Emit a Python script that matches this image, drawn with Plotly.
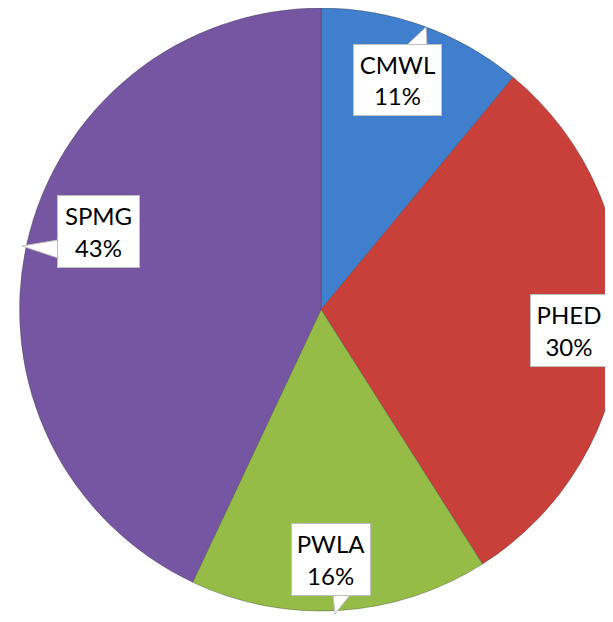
import plotly.graph_objects as go

# the page body adds an 8px margin, so the figure is drawn a bit wider
# than the window and the right edge gets clipped like the original
W, H = 630, 614
OFF = 8

labels = ["CMWL", "PHED", "PWLA", "SPMG"]
shares = [11, 30, 16, 43]
colors = ["#3F7FCD", "#C93F3A", "#95BC47", "#7656A2"]


def px(x):
    # window pixel -> paper x
    return (x - OFF) / W


def py(y):
    # window pixel -> paper y
    return 1 - (y - OFF) / H


fig = go.Figure(go.Pie(
    labels=labels,
    values=shares,
    sort=False,
    direction="clockwise",
    rotation=0,
    textinfo="none",
    hoverinfo="label+percent",
    marker=dict(colors=colors, line=dict(color="rgba(60,60,60,0.35)", width=1)),
    domain=dict(x=[px(19), px(623)], y=[py(611), py(8)]),
    showlegend=False,
))

# label boxes: centre x, centre y, width, height (window pixels)
boxes = {
    "CMWL": (397, 80, 89, 72),
    "PHED": (569, 330, 78, 73),
    "PWLA": (331, 559, 80, 73),
    "SPMG": (98, 232, 83, 73),
}
# callout pointers (window pixel triangles)
pointers = [
    [(407, 45), (427, 45), (426, 27)],
    [(607, 340), (607, 358), (622, 336)],
    [(333, 595), (350, 595), (335, 614)],
    [(58, 240), (58, 258), (22, 246)],
]

shapes = []
for tri in pointers:
    path = "M " + " L ".join(f"{px(x)},{py(y)}" for x, y in tri) + " Z"
    shapes.append(dict(type="path", xref="paper", yref="paper", path=path,
                       fillcolor="white", line=dict(color="#BFBFBF", width=1), layer="above"))

annotations = []
for lab, val in zip(labels, shares):
    cx, cy, bw, bh = boxes[lab]
    annotations.append(dict(
        x=px(cx), y=py(cy), xref="paper", yref="paper",
        xanchor="center", yanchor="middle",
        text=f"{lab}<br>{val}%", showarrow=False,
        font=dict(family="Lato", size=24, color="black"),
        bgcolor="white", bordercolor="#BFBFBF", borderwidth=1, borderpad=0,
        width=bw - 2, height=bh - 2, align="center", valign="middle",
    ))

fig.update_layout(
    width=W, height=H,
    margin=dict(l=0, r=0, t=0, b=0),
    paper_bgcolor="white",
    shapes=shapes,
    annotations=annotations,
)

fig.write_html("out.html")
